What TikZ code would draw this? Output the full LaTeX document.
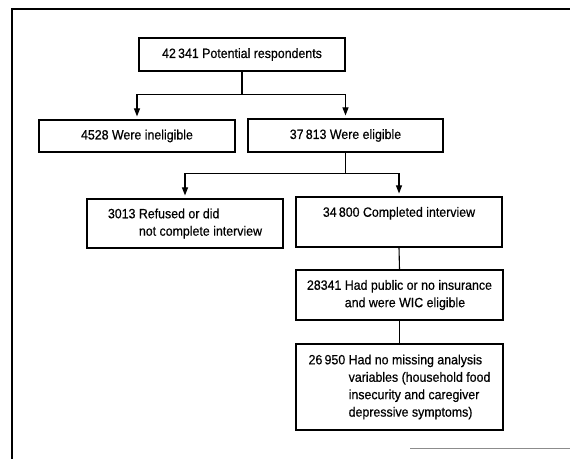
\documentclass[tikz,border=0pt]{standalone}
\usepackage{fontspec}
\setmainfont{Liberation Sans}[FakeStretch=0.92,FakeBold=0.5]
\usepackage{tikz}
\usetikzlibrary{arrows.meta}
\definecolor{framegray}{rgb}{0.55,0.55,0.55}
\newcommand{\hang}[2]{\begin{tabular}{@{}l@{ }l@{}}#1 & #2\end{tabular}}
\tikzset{
  box/.style={draw=black,line width=1.1bp,inner sep=0pt,align=center,
    font=\fontsize{13.5}{17.5}\selectfont},
  arrow/.style={line width=1.1bp,-{Triangle[width=6bp,length=8bp]},shorten >=3bp},
  link/.style={line width=1.1bp}
}

\begin{document}
\begin{tikzpicture}[x=1bp,y=-1bp]
  \useasboundingbox (0,0) rectangle (570,459);
  %% frame
  \draw[line width=1.2bp] (570,9) -- (12,9) -- (12,459);
  \draw[framegray,line width=1bp] (410,448) -- (570,448);
  %% boxes
  \node[box,minimum width=206bp,minimum height=33bp] (potential) at (242,54.5) {42\,341 Potential respondents};
  \node[box,minimum width=196bp,minimum height=32bp] (ineligible) at (137,136) {4528 Were ineligible};
  \node[box,minimum width=195bp,minimum height=33bp] (eligible) at (345.5,135.5) {37\,813 Were eligible};
  \node[box,minimum width=196bp,minimum height=49bp] (refused) at (185,223.5)
    {\hang{3013}{Refused or did\\ & not complete interview}};
  \node[box,minimum width=206bp,minimum height=50bp] (completed) at (399,222)
    {\hang{34\,800}{Completed interview\\ & \strut}};
  \node[box,minimum width=207bp,minimum height=50bp] (public) at (399.5,295)
    {\hang{28341}{Had public or no insurance\\ & and were WIC eligible}};
  \node[box,minimum width=207bp,minimum height=86bp] (nomissing) at (399.5,387)
    {\hang{26\,950}{Had no missing analysis\\ & variables (household food\\ & insecurity and caregiver\\ & depressive symptoms)}};
  %% connectors
  \draw[link] (potential.south) -- ++(0,23) coordinate (split1);
  \draw[arrow] (split1) -| (ineligible.north);
  \draw[arrow] (split1) -| (eligible.north);
  \draw[link] (eligible.south) -- ++(0,21) coordinate (split2);
  \draw[arrow] (split2) -| (refused.north);
  \draw[arrow] (split2) -| (completed.north);
  \draw[link] (completed.south) -- (public.north);
  \draw[link] (public.south) -- (nomissing.north);
\end{tikzpicture}
\end{document}
